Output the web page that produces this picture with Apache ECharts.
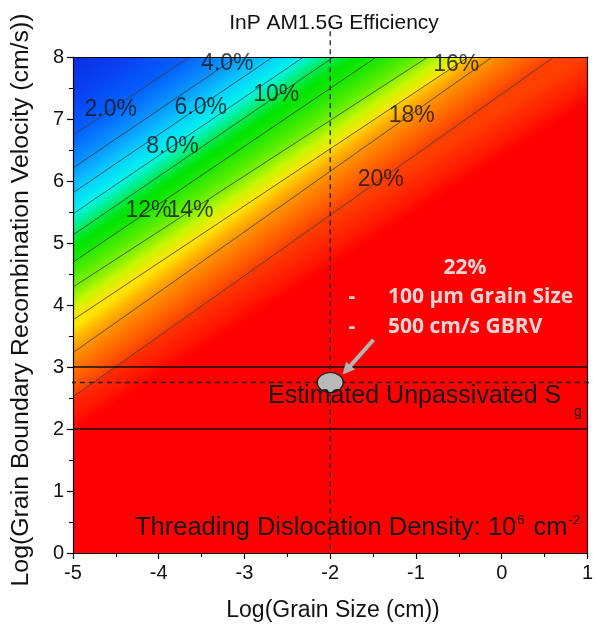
<!DOCTYPE html>
<html>
<head>
<meta charset="utf-8">
<script src="https://cdn.jsdelivr.net/npm/echarts@6/dist/echarts.min.js"></script>
<style>
html, body { margin: 0; padding: 0; background: #fff; }
#chart { width: 596px; height: 636px; }
</style>
</head>
<body>
<div id="chart"></div>
<script>
// efficiency contour levels (%) and where each contour runs, [log grain size, log GBRV]
var levels = [2, 4, 6, 8, 10, 12, 14, 16, 18, 20, 21, 22];
var contourLines = [
  [[-5, 6.74], [-3.64, 8]],
  [[-5, 6.21], [-3.09, 8]],
  [[-5, 5.81], [-2.67, 8]],
  [[-5, 5.47], [-2.31, 8]],
  [[-5, 5.13], [-1.96, 8]],
  [[-5, 4.69], [-1.46, 8]],
  [[-5, 4.29], [-0.86, 8]],
  [[-5, 3.76], [-0.39, 8]],
  [[-5, 3.23], [-0.11, 8]],
  [[-5, 2.52], [0.61, 8]],
  [[-5, 2.24], [1, 7.5]],
  [[-5, 1.95], [1, 7.25]]
];
var drawnLevels = [2, 4, 6, 8, 10, 12, 14, 16, 18, 20];
var cornerLevel = -2;

var labelTexts = ['2.0%', '4.0%', '6.0%', '8.0%', '10%', '12%', '14%', '16%', '18%', '20%'];
var labelAnchors = [[-4.56, 7.15], [-3.20, 7.89], [-3.51, 7.19], [-3.84, 6.55], [-2.63, 7.39],
                    [-4.12, 5.52], [-3.63, 5.52], [-0.53, 7.87], [-1.05, 7.06], [-1.41, 6.02]];

var xRange = [-5, 1];
var yRange = [0, 8];
var grainSizeLog = -2;     // 100 µm
var gbrvLog = 2.75;        // 500 cm/s, as drawn
var sgBand = [2, 3];       // estimated unpassivated Sg
var arrowFrom = [-1.495, 3.44];
var arrowTo = [-1.81, 2.95];

// jet-like colour scale used for the fill
var colorScale = [
  [-2, '#0830e0'], [0, '#0840f0'], [2, '#0460ff'], [4, '#0a96ff'], [6, '#08d0ff'],
  [8, '#00f4e8'], [9, '#00f0a0'], [10, '#00ea50'], [11, '#00e400'], [12, '#1ce800'],
  [13, '#48ec00'], [14, '#7cf000'], [15, '#c8f600'], [16, '#ffe400'], [17, '#ffb800'],
  [18, '#ff9400'], [19, '#ff6a00'], [20, '#ff4000'], [21, '#ff1800'], [22, '#ff0000']
];

function hexRgb(h) {
  return [parseInt(h.substr(1, 2), 16), parseInt(h.substr(3, 2), 16), parseInt(h.substr(5, 2), 16)];
}
function colorAt(v) {
  if (v <= colorScale[0][0]) return colorScale[0][1];
  for (var i = 1; i < colorScale.length; i++) {
    if (v <= colorScale[i][0]) {
      var a = colorScale[i - 1], b = colorScale[i];
      var t = (v - a[0]) / (b[0] - a[0]);
      var ca = hexRgb(a[1]), cb = hexRgb(b[1]);
      return 'rgb(' + Math.round(ca[0] + (cb[0] - ca[0]) * t) + ',' +
        Math.round(ca[1] + (cb[1] - ca[1]) * t) + ',' +
        Math.round(ca[2] + (cb[2] - ca[2]) * t) + ')';
    }
  }
  return colorScale[colorScale.length - 1][1];
}

// region on the high-efficiency side of a contour
function regionOf(line) {
  var pts = line.slice();
  var first = line[0], last = line[line.length - 1];
  if (last[1] === yRange[1]) pts.push([xRange[1], yRange[1]]);
  pts.push([xRange[1], yRange[0]]);
  if (first[0] === xRange[0]) pts.push([xRange[0], yRange[0]]);
  return pts;
}

function renderBand(params, api) {
  var i = api.value(2);
  var toPx = function (p) { return api.coord(p); };
  var pts = i < 0 ? [[xRange[0], yRange[0]], [xRange[0], yRange[1]], [xRange[1], yRange[1]], [xRange[1], yRange[0]]]
                  : regionOf(contourLines[i]);
  var poly = pts.map(toPx);
  var fill;
  if (i >= levels.length - 1) {
    fill = colorAt(levels[i]);
  } else {
    var cur = i < 0 ? null : contourLines[i].map(toPx);
    var nxt = contourLines[i + 1].map(toPx);
    var S = cur ? [(cur[0][0] + cur[cur.length - 1][0]) / 2, (cur[0][1] + cur[cur.length - 1][1]) / 2]
                : api.coord([xRange[0], yRange[1]]);
    var f = nxt[0], l = nxt[nxt.length - 1];
    var dx = l[0] - f[0], dy = l[1] - f[1], len = Math.sqrt(dx * dx + dy * dy);
    var n = [-dy / len, dx / len];
    var M = [(f[0] + l[0]) / 2, (f[1] + l[1]) / 2];
    var dist = (M[0] - S[0]) * n[0] + (M[1] - S[1]) * n[1];
    var E = [S[0] + n[0] * dist, S[1] + n[1] * dist];
    var from = i < 0 ? cornerLevel : levels[i], to = levels[i + 1];
    var stops = [];
    for (var k = 0; k <= 6; k++) {
      stops.push({ offset: k / 6, color: colorAt(from + (to - from) * k / 6) });
    }
    fill = new echarts.graphic.LinearGradient(S[0], S[1], E[0], E[1], stops, true);
  }
  return { type: 'polygon', shape: { points: poly }, style: { fill: fill, stroke: null } };
}

var FONT = 'Liberation Sans, Arial, sans-serif';
var chart = echarts.init(document.getElementById('chart'));

var bandData = [[xRange[0], yRange[0], -1]];
for (var i = 0; i < levels.length; i++) bandData.push([xRange[0], yRange[0], i]);

var series = [{
  type: 'custom',
  renderItem: renderBand,
  data: bandData,
  clip: true,
  silent: true,
  z: 1
}];

levels.forEach(function (lv, i) {
  if (drawnLevels.indexOf(lv) < 0) return;
  series.push({
    type: 'line', data: contourLines[i], symbol: 'none', silent: true, z: 3,
    lineStyle: { color: '#3c3c3c', width: 0.8 }
  });
});

sgBand.forEach(function (v) {
  series.push({
    type: 'line', data: [[xRange[0], v], [xRange[1], v]], symbol: 'none', silent: true, z: 4,
    lineStyle: { color: '#111', width: 1.6 }
  });
});

series.push({
  type: 'line', data: [[grainSizeLog, 8.56], [grainSizeLog, yRange[0]]], symbol: 'none', silent: true,
  clip: false, z: 4, lineStyle: { color: '#222', width: 1.3, type: [5, 4] }
});
series.push({
  type: 'line', data: [[-5.13, gbrvLog], [1.07, gbrvLog]], symbol: 'none', silent: true,
  clip: false, z: 4, lineStyle: { color: '#222', width: 1.3, type: [5, 4] }
});

series.push({
  type: 'scatter', data: [[grainSizeLog, gbrvLog]], symbol: 'circle', symbolSize: [26, 20], silent: true, z: 6,
  itemStyle: { color: '#b9b9b9', borderColor: '#1a1a1a', borderWidth: 1.3, opacity: 1 },
  markLine: {
    silent: true, symbol: ['none', 'triangle'], symbolSize: [12, 12],
    label: { show: false },
    lineStyle: { color: '#b4b4b4', width: 4, type: 'solid' },
    data: [[{ coord: arrowFrom }, { coord: arrowTo }]]
  }
});

series.push({
  type: 'scatter', symbolSize: 0, silent: true, z: 5,
  itemStyle: { color: 'transparent' },
  data: labelAnchors.map(function (p, i) { return [p[0], p[1], labelTexts[i]]; }),
  label: {
    show: true, position: 'inside', color: '#141414', fontSize: 23, fontFamily: FONT,
    formatter: function (p) { return p.value[2]; }
  }
});

function axis(dir, pos, main) {
  return {
    type: 'value', position: pos, z: 10,
    min: dir === 'x' ? xRange[0] : yRange[0], max: dir === 'x' ? xRange[1] : yRange[1], interval: 1,
    axisLine: { show: true, onZero: false, lineStyle: { color: '#000', width: 1.2 } },
    splitLine: { show: false },
    axisTick: { show: main, inside: false, length: 6, lineStyle: { color: '#000', width: 1.2 } },
    minorTick: { show: main, splitNumber: 2, length: 4, lineStyle: { color: '#000', width: 1 } },
    axisLabel: { show: main, color: '#111', fontSize: 20, fontFamily: FONT, margin: dir === 'x' ? 10 : 9 }
  };
}

var option = {
  animation: false,
  backgroundColor: '#fff',
  grid: { left: 73, right: 6, top: 57, bottom: 83 },
  xAxis: [axis('x', 'bottom', true), axis('x', 'top', false)],
  yAxis: [axis('y', 'left', true), axis('y', 'right', false)],
  series: series,
  graphic: [
    { type: 'text', x: 334, y: 23, z: 50, style: { text: 'InP AM1.5G Efficiency', font: '21px ' + FONT, fill: '#111', align: 'center', verticalAlign: 'middle' } },
    { type: 'text', x: 333, y: 611, z: 50, style: { text: 'Log(Grain Size (cm))', font: '23px ' + FONT, fill: '#111', align: 'center', verticalAlign: 'middle' } },
    { type: 'text', x: 22, y: 300, z: 50, rotation: Math.PI / 2, scaleX: 1.08,
      style: { text: 'Log(Grain Boundary Recombination Velocity (cm/s))', font: '23px ' + FONT, fill: '#111', align: 'center', verticalAlign: 'middle' } },
    { type: 'text', x: 465, y: 268, z: 50, style: { text: '22%', font: 'bold 21px Open Sans, sans-serif', fill: '#e4d4d4', align: 'center', verticalAlign: 'middle' } },
    { type: 'text', x: 352, y: 297, z: 50, style: { text: '-', font: 'bold 21px Open Sans, sans-serif', fill: '#e4d4d4', align: 'center', verticalAlign: 'middle' } },
    { type: 'text', x: 352, y: 327, z: 50, style: { text: '-', font: 'bold 21px Open Sans, sans-serif', fill: '#e4d4d4', align: 'center', verticalAlign: 'middle' } },
    { type: 'text', x: 388, y: 297, z: 50, style: { text: '100 µm Grain Size', font: 'bold 21px Open Sans, sans-serif', fill: '#e4d4d4', align: 'left', verticalAlign: 'middle' } },
    { type: 'text', x: 388, y: 327, z: 50, style: { text: '500 cm/s GBRV', font: 'bold 21px Open Sans, sans-serif', fill: '#e4d4d4', align: 'left', verticalAlign: 'middle' } },
    { type: 'text', x: 268, y: 396, z: 50, style: { text: 'Estimated Unpassivated S', font: '25px ' + FONT, fill: '#1a1a1a', align: 'left', verticalAlign: 'middle' } },
    { type: 'text', x: 574, y: 412, z: 50, style: { text: 'g', font: '14px ' + FONT, fill: '#1a1a1a', align: 'left', verticalAlign: 'middle' } },
    { type: 'text', x: 135, y: 528, z: 50, style: {
        text: 'Threading Dislocation Density: 10{sup|6} cm{sup|-2}', font: '25.5px ' + FONT, fill: '#1a1a1a',
        align: 'left', verticalAlign: 'middle',
        rich: { sup: { fontSize: 13, fontFamily: FONT, fill: '#1a1a1a', verticalAlign: 'top', lineHeight: 28, padding: [0, 2, 0, 1] } } } }
  ]
};
chart.setOption(option);
</script>
</body>
</html>
